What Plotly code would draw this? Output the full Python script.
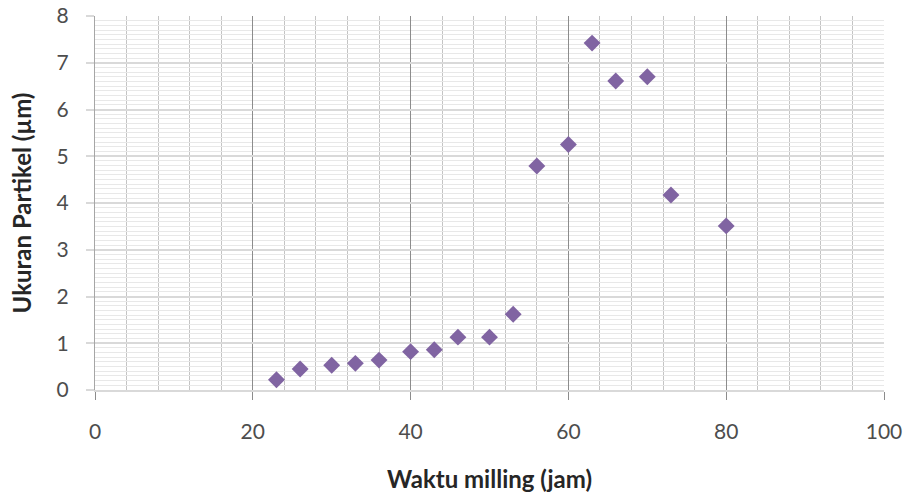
import plotly.graph_objects as go

waktu = [23, 26, 30, 33, 36, 40, 43, 46, 50, 53, 56, 60, 63, 66, 70, 73, 80]
ukuran = [0.22, 0.45, 0.53, 0.57, 0.64, 0.82, 0.86, 1.13, 1.13, 1.62, 4.79, 5.25, 7.42, 6.61, 6.70, 4.17, 3.51]
x_ticks = [0, 20, 40, 60, 80, 100]
y_ticks = [0, 1, 2, 3, 4, 5, 6, 7, 8]

fig = go.Figure()
fig.add_trace(go.Scatter(
    x=waktu, y=ukuran, mode="markers",
    marker=dict(symbol="diamond", size=13, color="#8064A2", line=dict(width=0)),
    showlegend=False,
))

font_fam = "Lato, 'Open Sans', sans-serif"
fig.update_layout(
    width=907, height=493,
    margin=dict(l=95, r=23, t=16, b=103),
    paper_bgcolor="white", plot_bgcolor="white",
    font=dict(family=font_fam, color="#4d4d4d", size=21),
    xaxis=dict(
        range=[0, 100], tickvals=x_ticks, ticktext=[str(v) for v in x_ticks],
        automargin=False,
        showgrid=True, gridcolor="#8c8c8c", gridwidth=1,
        minor=dict(dtick=4, tick0=0, showgrid=True, gridcolor="#c4c4c4", gridwidth=1),
        ticks="outside", ticklen=8, tickcolor="#8c8c8c",
        ticklabelstandoff=14,
        showline=True, linecolor="#d9d9d9", linewidth=2,
        zeroline=False,
        title=dict(text="<b>Waktu milling (jam)</b>", font=dict(size=24, color="#262626"), standoff=29),
        tickfont=dict(size=21, color="#4d4d4d"),
    ),
    yaxis=dict(
        range=[0, 8], tickvals=y_ticks, ticktext=[str(v) for v in y_ticks],
        automargin=False,
        showgrid=True, gridcolor="#d9d9d9", gridwidth=2,
        minor=dict(dtick=0.1, tick0=0, showgrid=True, gridcolor="#e8e8e8", gridwidth=1),
        ticks="outside", ticklen=8, tickcolor="#d9d9d9", tickwidth=2,
        ticklabelstandoff=13,
        ticklabeloverflow="allow",
        showline=True, linecolor="#a6a6a6", linewidth=1,
        zeroline=False,
        title=dict(text="<b>Ukuran Partikel (µm)</b>", font=dict(size=24, color="#262626"), standoff=18),
        tickfont=dict(size=21, color="#4d4d4d"),
    ),
)

fig.write_html("out.html", config={"displayModeBar": False},
               post_script="document.body.style.margin='0';")
